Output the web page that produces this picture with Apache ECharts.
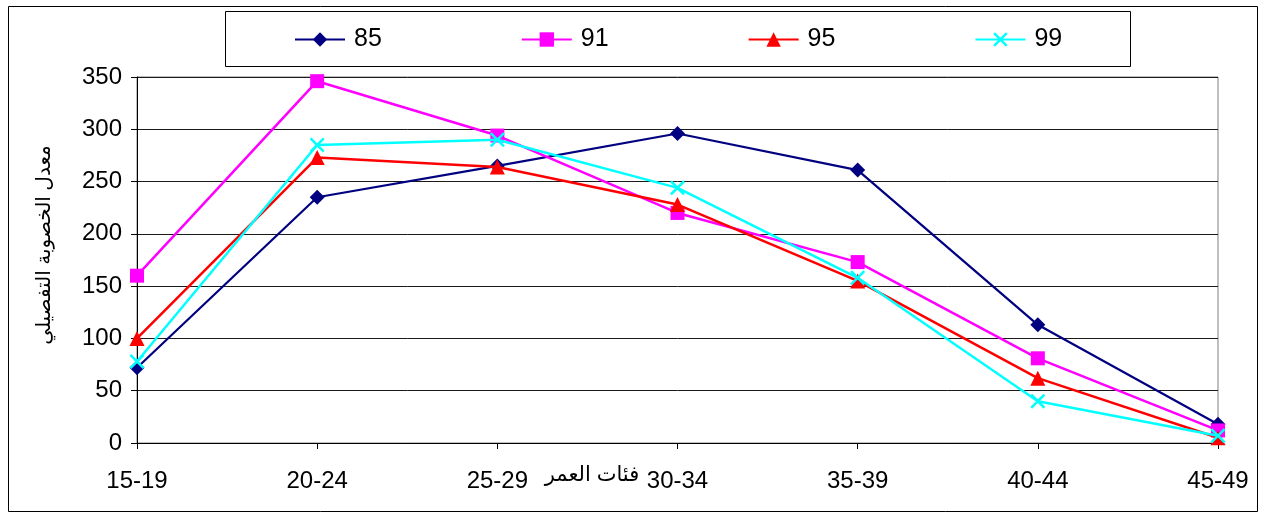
<!DOCTYPE html>
<html>
<head>
<meta charset="utf-8">
<script src="https://cdn.jsdelivr.net/npm/echarts@6/dist/echarts.min.js"></script>
<style>
  html, body { margin: 0; padding: 0; background: #fff; }
  #chart { width: 1265px; height: 515px; }
</style>
</head>
<body>
<div id="chart"></div>
<script>
// Age-specific fertility rates by age group, one series per survey year
const ageGroups = ['15-19', '20-24', '25-29', '30-34', '35-39', '40-44', '45-49'];
const years = ['85', '91', '95', '99'];
const rates85 = [72, 235, 265, 296, 261, 113, 18];
const rates91 = [160, 346, 294, 220, 173, 81, 12];
const rates95 = [100, 273, 264, 228, 155, 62, 5];
const rates99 = [78, 285, 290, 244, 158, 40, 7];
const yMax = 350;
const yStep = 50;

const xAxisTitle = 'فئات العمر';
const yAxisTitle = 'معدل الخصوبة التفصيلي';

const FONT = '"Liberation Sans", Arial, "DejaVu Sans", sans-serif';
const CROSS = 'path://M0,1.2 L1.2,0 L5,3.8 L8.8,0 L10,1.2 L6.2,5 L10,8.8 L8.8,10 L5,6.2 L1.2,10 L0,8.8 L3.8,5 Z';

const styles = [
  { color: '#000080', symbol: 'diamond', size: 15, width: 2.2 },
  { color: '#FF00FF', symbol: 'rect', size: 14, width: 2.5 },
  { color: '#FF0000', symbol: 'triangle', size: 15, width: 2.5 },
  { color: '#00FFFF', symbol: CROSS, size: 15, width: 2.5 }
];
const dataSets = [rates85, rates91, rates95, rates99];

const series = years.map((name, i) => ({
  name: name,
  type: 'line',
  data: dataSets[i],
  symbol: styles[i].symbol,
  symbolSize: styles[i].size,
  showAllSymbol: true,
  lineStyle: { color: styles[i].color, width: styles[i].width },
  itemStyle: { color: styles[i].color },
  emphasis: { disabled: true },
  animation: false,
  z: 3 + i
}));

const chart = echarts.init(document.getElementById('chart'), null, { renderer: 'canvas' });
chart.setOption({
  backgroundColor: '#ffffff',
  animation: false,
  textStyle: { fontFamily: FONT },
  grid: {
    left: 137, top: 77, width: 1081, height: 366,
    show: true, borderColor: '#808080', borderWidth: 1, backgroundColor: 'transparent'
  },
  legend: {
    data: years,
    left: 294, top: 27,
    padding: 0,
    itemWidth: 50, itemHeight: 18, itemGap: 139,
    textStyle: { fontSize: 25, color: '#000', fontFamily: FONT, padding: [0, 0, 0, 4] },
    selectedMode: false
  },
  xAxis: {
    type: 'category',
    data: ageGroups,
    boundaryGap: false,
    axisLine: { lineStyle: { color: '#000', width: 1 } },
    axisTick: { show: true, inside: false, length: 6, lineStyle: { color: '#000' } },
    axisLabel: { fontSize: 24, color: '#000', margin: 26, fontFamily: FONT },
    splitLine: { show: false }
  },
  yAxis: {
    type: 'value',
    min: 0, max: yMax, interval: yStep,
    axisLine: { show: true, lineStyle: { color: '#000', width: 1 } },
    axisTick: { show: true, inside: false, length: 6, lineStyle: { color: '#000' } },
    axisLabel: { fontSize: 24, color: '#000', margin: 15, fontFamily: FONT },
    splitLine: { show: true, lineStyle: { color: '#1a1a1a', width: 1 } }
  },
  graphic: [
    { type: 'rect', silent: true, z: 0,
      shape: { x: 8.5, y: 6.5, width: 1249, height: 505 },
      style: { fill: 'none', stroke: '#000', lineWidth: 1 } },
    { type: 'rect', silent: true, z: 0,
      shape: { x: 225.5, y: 11.5, width: 905, height: 55 },
      style: { fill: 'none', stroke: '#000', lineWidth: 1 } },
    { type: 'text', silent: true, x: 592, y: 475,
      style: { text: xAxisTitle, fontSize: 21, fill: '#000', fontFamily: FONT,
               textAlign: 'center', textVerticalAlign: 'middle' } },
    { type: 'text', silent: true, x: 44, y: 245, rotation: Math.PI / 2,
      style: { text: yAxisTitle, fontSize: 20, fill: '#000', fontFamily: FONT,
               textAlign: 'center', textVerticalAlign: 'middle' } }
  ],
  series: series
});
</script>
</body>
</html>
